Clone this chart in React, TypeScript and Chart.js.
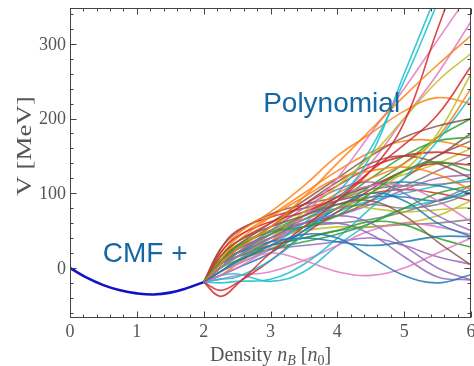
import React, { useEffect, useRef } from 'react';
import { Chart, registerables } from 'chart.js';

Chart.register(...registerables);

const X_MIN = 0;
const X_MAX = 6;
const Y_MIN = -67;
const Y_MAX = 348;
const X_TICKS = [0, 1, 2, 3, 4, 5, 6];
const Y_TICKS = [0, 100, 200, 300];
const X_MINOR_STEP = 0.2;
const Y_MINOR_STEP = 20;

const CMF_X = [0, 0.25, 0.5, 0.75, 1, 1.25, 1.5, 1.75, 2];
const CMF_Y = [0, -13, -23, -30, -34, -35.5, -33, -27, -19];

const POLY_X = [2, 2.25, 2.5, 3, 3.5, 4, 4.5, 5, 5.5, 6];
const POLY_Y: number[][] = [
  [-19, -5, 8, 30, 45, 40, 15, -10, -20, -9],
  [-19, 5, 25, 55, 95, 140, 185, 230, 272, 311],
  [-19, 8, 28, 48, 55, 70, 100, 130, 142, 130],
  [-19, -38, -22, 20, 55, 90, 130, 195, 320, 440],
  [-19, 0, 15, 40, 60, 70, 60, 30, 0, -16],
  [-19, 15, 35, 55, 70, 85, 90, 70, 35, 4],
  [-19, -10, 0, 28, 70, 120, 180, 240, 305, 370],
  [-19, 5, 20, 45, 70, 90, 105, 110, 112, 116],
  [-19, 0, 15, 40, 75, 110, 150, 200, 250, 287],
  [-19, -15, -12, 10, 45, 90, 150, 260, 370, 480],
  [-19, 5, 20, 35, 40, 35, 30, 35, 42, 42],
  [-19, 10, 35, 68, 95, 120, 130, 135, 125, 105],
  [-19, -5, 10, 25, 35, 45, 60, 80, 100, 110],
  [-19, 20, 42, 62, 75, 95, 130, 165, 205, 270],
  [-19, 0, 20, 50, 80, 105, 115, 100, 70, 50],
  [-19, 10, 30, 60, 90, 120, 150, 175, 190, 200],
  [-19, -5, 5, 20, 10, -5, -10, 0, 20, 40],
  [-19, 10, 25, 45, 65, 80, 85, 80, 85, 100],
  [-19, 15, 30, 50, 65, 80, 100, 130, 180, 260],
  [-19, 0, 10, 30, 60, 100, 160, 250, 355, 460],
  [-19, -10, 0, 20, 50, 80, 100, 90, 60, 42],
  [-19, 20, 45, 75, 110, 150, 180, 210, 228, 220],
  [-19, 5, 15, 30, 40, 50, 62, 58, 40, 28],
  [-19, 15, 35, 60, 85, 110, 135, 150, 155, 150],
  [-19, -5, 10, 35, 55, 60, 45, 15, -12, -16],
  [-19, 5, 25, 55, 85, 115, 140, 150, 140, 120],
  [-19, 0, 15, 40, 70, 95, 110, 110, 90, 62],
  [-19, 10, 25, 45, 60, 80, 95, 110, 130, 150],
  [-19, 5, 25, 55, 75, 85, 80, 75, 78, 81],
  [-19, -20, -18, -15, 5, 40, 80, 120, 170, 230],
  [-19, 0, 15, 40, 65, 85, 95, 95, 90, 105],
  [-19, -10, 5, 35, 70, 100, 120, 140, 175, 240],
  [-19, 10, 30, 50, 70, 90, 120, 150, 170, 175],
  [-19, -30, -20, 10, 45, 75, 105, 130, 140, 138],
  [-19, 0, 20, 45, 60, 70, 85, 105, 120, 125],
  [-19, 25, 48, 72, 85, 95, 110, 130, 150, 180],
  [-19, -15, -10, -5, 10, 30, 50, 60, 55, 45],
  [-19, 5, 20, 40, 55, 60, 65, 75, 90, 110],
  [-19, 10, 25, 40, 50, 55, 55, 60, 70, 90],
  [-19, -10, -8, -18, -5, 30, 60, 80, 90, 100],
  [-19, 5, 20, 45, 70, 95, 110, 115, 110, 100],
  [-19, 15, 40, 70, 100, 130, 155, 170, 170, 160],
  [-19, 0, 15, 35, 55, 80, 110, 140, 175, 200],
  [-19, 25, 50, 68, 80, 90, 100, 105, 100, 90],
  [-19, 5, 15, 25, 30, 35, 40, 30, 15, 5],
  [-19, 10, 30, 50, 60, 70, 90, 120, 150, 170],
  [-19, 0, 10, 25, 50, 90, 140, 200, 260, 330],
  [-19, 10, 20, 30, 40, 50, 55, 58, 60, 65],
  [-19, 5, 20, 45, 70, 90, 110, 125, 140, 160],
  [-19, -5, 5, 25, 50, 75, 90, 100, 110, 120],
];

const PALETTE = [
  'rgba(31,119,180,0.85)',
  'rgba(255,127,14,0.85)',
  'rgba(44,160,44,0.85)',
  'rgba(214,39,40,0.85)',
  'rgba(148,103,189,0.85)',
  'rgba(140,86,75,0.85)',
  'rgba(227,119,194,0.85)',
  'rgba(127,127,127,0.85)',
  'rgba(188,189,34,0.85)',
  'rgba(23,190,207,0.85)',
];

const CMF_COLOR = '#1212c4';
const NOTE_COLOR = '#1467a0';
const AXIS_COLOR = '#444444';
const LABEL_COLOR = '#555555';
const SERIF = '"Liberation Serif", "DejaVu Serif", serif';
const SANS = '"Liberation Sans", Arial, sans-serif';

const NOTE_CMF = { text: 'CMF +', x: 0.49, y: 8 };
const NOTE_POLY = { text: 'Polynomial', x: 2.89, y: 209 };

const decorPlugin = {
  id: 'decor',
  afterDatasetsDraw(chart: any) {
    const { ctx, scales } = chart;
    const xs = scales.x;
    const ys = scales.y;
    ctx.save();
    ctx.fillStyle = NOTE_COLOR;
    ctx.font = `28px ${SANS}`;
    ctx.textAlign = 'left';
    ctx.textBaseline = 'alphabetic';
    for (const n of [NOTE_CMF, NOTE_POLY]) {
      ctx.fillText(n.text, xs.getPixelForValue(n.x), ys.getPixelForValue(n.y));
    }
    ctx.restore();
  },
  afterDraw(chart: any) {
    const { ctx, chartArea: a, scales } = chart;
    const xs = scales.x;
    const ys = scales.y;
    ctx.save();
    ctx.strokeStyle = AXIS_COLOR;
    ctx.lineWidth = 1;
    const L = Math.round(a.left) + 0.5;
    const R = Math.round(a.right) - 0.5;
    const T = Math.round(a.top) + 0.5;
    const B = Math.round(a.bottom) - 0.5;
    ctx.strokeRect(L, T, R - L, B - T);
    ctx.beginPath();
    const nx = Math.round((X_MAX - X_MIN) / X_MINOR_STEP);
    for (let i = 0; i <= nx; i++) {
      const v = X_MIN + i * X_MINOR_STEP;
      const major = X_TICKS.some((t) => Math.abs(t - v) < 1e-6);
      const len = major ? 6 : 3;
      const px = Math.round(xs.getPixelForValue(v)) + 0.5;
      ctx.moveTo(px, B);
      ctx.lineTo(px, B - len);
      ctx.moveTo(px, T);
      ctx.lineTo(px, T + len);
    }
    const y0 = Math.ceil(Y_MIN / Y_MINOR_STEP) * Y_MINOR_STEP;
    const ny = Math.floor((Y_MAX - y0) / Y_MINOR_STEP);
    for (let i = 0; i <= ny; i++) {
      const v = y0 + i * Y_MINOR_STEP;
      const major = Y_TICKS.some((t) => Math.abs(t - v) < 1e-6);
      const len = major ? 6 : 3;
      const py = Math.round(ys.getPixelForValue(v)) + 0.5;
      ctx.moveTo(L, py);
      ctx.lineTo(L + len, py);
      ctx.moveTo(R, py);
      ctx.lineTo(R - len, py);
    }
    ctx.stroke();

    ctx.fillStyle = LABEL_COLOR;
    ctx.font = `18px ${SERIF}`;
    ctx.textAlign = 'center';
    ctx.textBaseline = 'alphabetic';
    for (const t of X_TICKS) {
      ctx.fillText(String(t), xs.getPixelForValue(t), a.bottom + 19);
    }
    ctx.textAlign = 'right';
    ctx.textBaseline = 'middle';
    for (const t of Y_TICKS) {
      ctx.fillText(String(t), a.left - 4, ys.getPixelForValue(t) + 1);
    }

    ctx.save();
    ctx.translate(26, 146);
    ctx.rotate(-Math.PI / 2);
    ctx.scale(1.35, 1);
    ctx.font = `20px ${SERIF}`;
    ctx.textAlign = 'center';
    ctx.textBaseline = 'middle';
    ctx.fillText('V [MeV]', 0, 0);
    ctx.restore();

    const parts = [
      { t: 'Density ', it: false, sub: false },
      { t: 'n', it: true, sub: false },
      { t: 'B', it: true, sub: true },
      { t: ' [', it: false, sub: false },
      { t: 'n', it: true, sub: false },
      { t: '0', it: false, sub: true },
      { t: ']', it: false, sub: false },
    ];
    const fontFor = (p: any) => `${p.it ? 'italic ' : ''}${p.sub ? 14 : 20}px ${SERIF}`;
    let total = 0;
    for (const p of parts) {
      ctx.font = fontFor(p);
      total += ctx.measureText(p.t).width;
    }
    let cx = (a.left + a.right) / 2 - total / 2;
    const base = a.bottom + 43;
    ctx.textAlign = 'left';
    ctx.textBaseline = 'alphabetic';
    for (const p of parts) {
      ctx.font = fontFor(p);
      ctx.fillText(p.t, cx, base + (p.sub ? 4 : 0));
      cx += ctx.measureText(p.t).width;
    }
    ctx.restore();
  },
};

export default function App() {
  const ref = useRef<HTMLCanvasElement | null>(null);
  useEffect(() => {
    if (!ref.current) return;
    const datasets: any[] = POLY_Y.map((ys, i) => ({
      data: ys.map((v, j) => ({ x: POLY_X[j], y: v })),
      borderColor: PALETTE[i % PALETTE.length],
      borderWidth: 1.6,
      pointRadius: 0,
      tension: 0.4,
      fill: false,
    }));
    datasets.push({
      data: CMF_Y.map((v, j) => ({ x: CMF_X[j], y: v })),
      borderColor: CMF_COLOR,
      borderWidth: 2.6,
      pointRadius: 0,
      tension: 0.4,
      fill: false,
    });
    const chart = new Chart(ref.current, {
      type: 'line',
      data: { datasets },
      options: {
        animation: false,
        responsive: false,
        events: [],
        layout: { padding: { top: 8, right: 3, left: 0, bottom: 0 } },
        plugins: { legend: { display: false }, tooltip: { enabled: false } },
        scales: {
          x: {
            type: 'linear',
            min: X_MIN,
            max: X_MAX,
            grid: { display: false },
            border: { display: false },
            ticks: { display: false },
            afterFit: (s: any) => {
              s.height = 48;
            },
          },
          y: {
            type: 'linear',
            min: Y_MIN,
            max: Y_MAX,
            grid: { display: false },
            border: { display: false },
            ticks: { display: false },
            afterFit: (s: any) => {
              s.width = 70;
            },
          },
        },
      },
      plugins: [decorPlugin],
    });
    return () => chart.destroy();
  }, []);
  return (
    <div style={{ position: 'fixed', left: 0, top: 0, width: 474, height: 366, background: '#fff' }}>
      <canvas ref={ref} width={474} height={366} />
    </div>
  );
}
